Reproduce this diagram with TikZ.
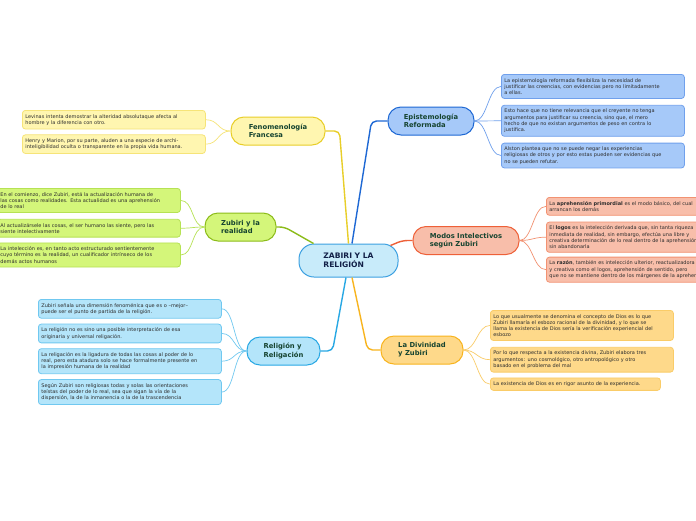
\documentclass[tikz,border=0pt]{standalone}
\usepackage{fontspec}
\setmainfont{DejaVu Sans}
\usetikzlibrary{positioning}
\definecolor{centerfill}{RGB}{200,235,250}
\definecolor{centerline}{RGB}{60,160,225}
\definecolor{centertext}{RGB}{18,32,72}
\definecolor{topictext}{RGB}{22,68,48}
\definecolor{leaftext}{RGB}{45,45,45}
\definecolor{fenomfill}{RGB}{255,246,176}
\definecolor{fenomline}{RGB}{232,206,40}
\definecolor{fenomtwig}{RGB}{246,228,120}
\definecolor{epistfill}{RGB}{166,201,249}
\definecolor{epistline}{RGB}{30,104,212}
\definecolor{episttwig}{RGB}{112,160,236}
\definecolor{zubfill}{RGB}{212,246,122}
\definecolor{zubline}{RGB}{140,188,26}
\definecolor{zubtwig}{RGB}{182,226,84}
\definecolor{modfill}{RGB}{248,190,170}
\definecolor{modline}{RGB}{238,96,56}
\definecolor{modtwig}{RGB}{242,146,114}
\definecolor{relfill}{RGB}{180,229,250}
\definecolor{relline}{RGB}{40,168,228}
\definecolor{reltwig}{RGB}{112,200,240}
\definecolor{divfill}{RGB}{254,217,138}
\definecolor{divline}{RGB}{248,180,30}
\definecolor{divtwig}{RGB}{250,204,104}
\tikzset{
  central/.style={
    rectangle,
    rounded corners=15pt,
    draw=centerline,
    fill=centerfill,
    line width=1pt,
    align=left,
    minimum width=99pt,
    minimum height=33pt,
    text=centertext,
    font=\fontsize{7.6}{9.4}\selectfont\bfseries
  },
  topic/.style={
    rectangle,
    rounded corners=13pt,
    line width=1pt,
    align=left,
    minimum height=28pt,
    inner xsep=0pt,
    text=topictext,
    font=\fontsize{6.8}{8.2}\selectfont\bfseries
  },
  leaf/.style={
    rectangle,
    rounded corners=3pt,
    line width=0.8pt,
    align=left,
    anchor=north west,
    text width=177pt,
    inner xsep=3pt,
    inner ysep=3.8pt,
    text=leaftext,
    font=\fontsize{5}{6.2}\selectfont
  },
  branch/.style={line width=1.4pt, rounded corners=5pt},
  twig/.style={line width=0.7pt}
}

\begin{document}
\begin{tikzpicture}[x=1pt, y=-1pt, node distance=5pt]
  \useasboundingbox[fill=white] (0,0) rectangle (696,520);

  % main topics
  \node[central] (zabiri) at (348.5,260.5) {ZABIRI Y LA\\RELIGIÓN};
  \node[topic, draw=fenomline, fill=fenomfill, minimum width=94pt] (fenom) at (278,131) {Fenomenología\\Francesa};
  \node[topic, draw=epistline, fill=epistfill, minimum width=86pt] (epist) at (431,121) {Epistemología\\Reformada};
  \node[topic, draw=zubline, fill=zubfill, minimum width=71pt] (zubiri) at (240.5,227) {Zubiri y la\\realidad};
  \node[topic, draw=modline, fill=modfill, minimum width=106pt] (modos) at (466,240.5) {Modos Intelectivos\\según Zubiri};
  \node[topic, draw=relline, fill=relfill, minimum width=73pt] (relig) at (283.5,351) {Religión y\\Religación};
  \node[topic, draw=divline, fill=divfill, minimum width=82pt] (divin) at (422,350) {La Divinidad\\y Zubiri};

  % Fenomenologia
  \node[leaf, draw=fenomtwig, fill=fenomfill] (f1) at (22,110) {Levinas intenta demostrar la alteridad absolutaque afecta al\\hombre y la diferencia con otro.};
  \node[leaf, draw=fenomtwig, fill=fenomfill, below=of f1] (f2) {Henry y Marion, por su parte, aluden a una especie de archi-\\inteligibilidad oculta o transparente en la propia vida humana.};

  % Zubiri y la realidad
  \node[leaf, draw=zubtwig, fill=zubfill] (z1) at (-3,188) {En el comienzo, dice Zubiri, está la actualización humana de\\las cosas como realidades. Esta actualidad es una aprehensión\\de lo real};
  \node[leaf, draw=zubtwig, fill=zubfill, below=6pt of z1] (z2) {Al actualizársele las cosas, el ser humano las siente, pero las\\siente intelectivamente};
  \node[leaf, draw=zubtwig, fill=zubfill, below=of z2] (z3) {La intelección es, en tanto acto estructurado sentientemente\\cuyo término es la realidad, un cualificador intrínseco de los\\demás actos humanos};

  % Religion
  \node[leaf, draw=reltwig, fill=relfill] (r1) at (38,299) {Zubiri señala una dimensión fenoménica que es o –mejor–\\puede ser el punto de partida de la religión.};
  \node[leaf, draw=reltwig, fill=relfill, below=of r1] (r2) {La religión no es sino una posible interpretación de esa\\originaria y universal religación.};
  \node[leaf, draw=reltwig, fill=relfill, below=of r2] (r3) {La religación es la ligadura de todas las cosas al poder de lo\\real, pero esta atadura solo se hace formalmente presente en\\la impresión humana de la realidad};
  \node[leaf, draw=reltwig, fill=relfill, below=of r3] (r4) {Según Zubiri son religiosas todas y solas las orientaciones\\teístas del poder de lo real, sea que sigan la vía de la\\dispersión, la de la inmanencia o la de la trascendencia};

  % Epistemologia
  \node[leaf, draw=episttwig, fill=epistfill] (e1) at (501,74) {La epistemología reformada flexibiliza la necesidad de\\justificar las creencias, con evidencias pero no limitadamente\\a ellas.};
  \node[leaf, draw=episttwig, fill=epistfill, below=6pt of e1] (e2) {Esto hace que no tiene relevancia que el creyente no tenga\\argumentos para justificar su creencia, sino que, el mero\\hecho de que no existan argumentos de peso en contra lo\\justifica.};
  \node[leaf, draw=episttwig, fill=epistfill, below=6pt of e2] (e3) {Alston plantea que no se puede negar las experiencias\\religiosas de otros y por esto estas pueden ser evidencias que\\no se pueden refutar.};

  % Modos intelectivos
  \node[leaf, draw=modtwig, fill=modfill] (m1) at (546,197) {La \textbf{aprehensión primordial} es el modo básico, del cual\\arrancan los demás};
  \node[leaf, draw=modtwig, fill=modfill, below=6pt of m1] (m2) {El \textbf{logos} es la intelección derivada que, sin tanta riqueza\\inmediata de realidad, sin embargo, efectúa una libre y\\creativa determinación de lo real dentro de la aprehensión\\sin abandonarla};
  \node[leaf, draw=modtwig, fill=modfill, below=4pt of m2] (m3) {La \textbf{razón}, también es intelección ulterior, reactualizadora\\y creativa como el logos, aprehensión de sentido, pero\\que no se mantiene dentro de los márgenes de la aprehensión};

  % Divinidad
  \node[leaf, draw=divtwig, fill=divfill] (d1) at (490,310) {Lo que usualmente se denomina el concepto de Dios es lo que\\Zubiri llamaría el esbozo racional de la divinidad, y lo que se\\llama la existencia de Dios sería la verificación experiencial del\\esbozo};
  \node[leaf, draw=divtwig, fill=divfill, below=6pt of d1] (d2) {Por lo que respecta a la existencia divina, Zubiri elabora tres\\argumentos: uno cosmológico, otro antropológico y otro\\basado en el problema del mal};
  \node[leaf, draw=divtwig, fill=divfill, text width=164pt, below=5pt of d2.south west, anchor=north west] (d3) {La existencia de Dios es en rigor asunto de la experiencia.};

  % branches
  \draw[branch, draw=fenomline] (zabiri.north) -- ([xshift=14pt]fenom.east) -- (fenom.east);
  \draw[branch, draw=epistline] ([xshift=3.5pt]zabiri.north) -- ([xshift=-16pt]epist.west) -- (epist.west);
  \draw[branch, draw=zubline] ([xshift=-35pt]zabiri.north) -- ([xshift=8pt]zubiri.east) -- (zubiri.east);
  \draw[branch, draw=modline] ([shift={(-8,2)}]zabiri.north east) -- ([xshift=-10pt]modos.west) -- (modos.west);
  \draw[branch, draw=relline] ([xshift=-2.5pt]zabiri.south) -- ([xshift=12pt]relig.east) -- (relig.east);
  \draw[branch, draw=divline] ([xshift=3.5pt]zabiri.south) -- ([xshift=-13pt]divin.west) -- (divin.west);

  % twigs
  \draw[twig, draw=fenomtwig] (fenom.west) .. controls +(-13,0) and +(13,0) .. (f1.east);
  \draw[twig, draw=fenomtwig] (fenom.west) .. controls +(-13,0) and +(13,0) .. (f2.east);
  \draw[twig, draw=zubtwig] (zubiri.west) .. controls +(-13,0) and +(13,0) .. (z1.east);
  \draw[twig, draw=zubtwig] (zubiri.west) .. controls +(-13,0) and +(13,0) .. (z2.east);
  \draw[twig, draw=zubtwig] (zubiri.west) .. controls +(-13,0) and +(13,0) .. (z3.east);
  \draw[twig, draw=reltwig] (relig.west) .. controls +(-13,0) and +(13,0) .. (r1.east);
  \draw[twig, draw=reltwig] (relig.west) .. controls +(-13,0) and +(13,0) .. (r2.east);
  \draw[twig, draw=reltwig] (relig.west) .. controls +(-13,0) and +(13,0) .. (r3.east);
  \draw[twig, draw=reltwig] (relig.west) .. controls +(-13,0) and +(13,0) .. (r4.east);
  \draw[twig, draw=episttwig] (epist.east) .. controls +(13,0) and +(-13,0) .. (e1.west);
  \draw[twig, draw=episttwig] (epist.east) .. controls +(13,0) and +(-13,0) .. (e2.west);
  \draw[twig, draw=episttwig] (epist.east) .. controls +(13,0) and +(-13,0) .. (e3.west);
  \draw[twig, draw=modtwig] (modos.east) .. controls +(13,0) and +(-13,0) .. (m1.west);
  \draw[twig, draw=modtwig] (modos.east) .. controls +(13,0) and +(-13,0) .. (m2.west);
  \draw[twig, draw=modtwig] (modos.east) .. controls +(13,0) and +(-13,0) .. (m3.west);
  \draw[twig, draw=divtwig] (divin.east) .. controls +(13,0) and +(-13,0) .. (d1.west);
  \draw[twig, draw=divtwig] (divin.east) .. controls +(13,0) and +(-13,0) .. (d2.west);
  \draw[twig, draw=divtwig] (divin.east) .. controls +(13,0) and +(-13,0) .. (d3.west);
\end{tikzpicture}
\end{document}
